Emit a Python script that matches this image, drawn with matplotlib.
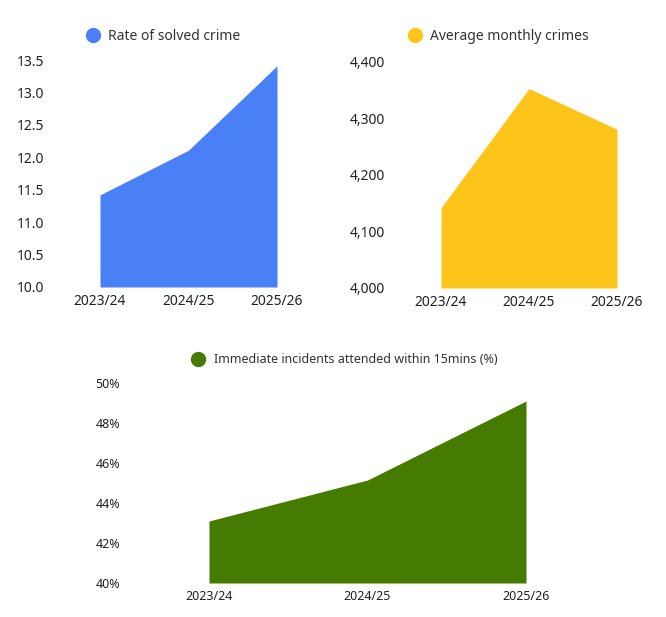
import matplotlib.pyplot as plt
from matplotlib.lines import Line2D
from matplotlib.ticker import FuncFormatter

years = ["2023/24", "2024/25", "2025/26"]

solved_rate = [11.42, 12.11, 13.41]
monthly_crimes = [4142, 4353, 4281]
attended_pct = [43.1, 45.15, 49.1]

W, H = 666, 617


def px_box(left, top, right, bottom):
    return [left / W, 1 - bottom / H, (right - left) / W, (bottom - top) / H]


def draw(ax, values, color, ylim, yticks, fmt, label, legend_xy, ypad):
    x = range(len(years))
    ax.fill_between(x, ylim[0], values, color=color, linewidth=0)
    ax.set_xlim(0, len(years) - 1)
    ax.set_ylim(*ylim)
    ax.set_yticks(yticks)
    ax.yaxis.set_major_formatter(FuncFormatter(fmt))
    ax.set_xticks(list(x))
    ax.set_xticklabels(years)
    ax.tick_params(axis="y", length=0, pad=ypad, labelsize=10, labelcolor="#222222")
    ax.tick_params(axis="x", length=0, pad=5, labelsize=10, labelcolor="#222222")
    for s in ax.spines.values():
        s.set_visible(False)
    handle = Line2D([], [], marker="o", linestyle="none", markersize=10,
                    markerfacecolor=color, markeredgecolor=color)
    ax.legend([handle], [label], loc="center", bbox_to_anchor=legend_xy,
              bbox_transform=ax.figure.transFigure, frameon=False,
              handletextpad=0.1, fontsize=10, labelcolor="#333333")


def main():
    plt.rcParams["font.family"] = ["Noto Sans", "DejaVu Sans"]
    fig = plt.figure(figsize=(W / 100, H / 100), dpi=100)

    ax1 = fig.add_axes(px_box(100, 60, 277, 287))
    draw(ax1, solved_rate, "#4a80f5", (10, 13.5),
         [10, 10.5, 11, 11.5, 12, 12.5, 13, 13.5],
         lambda v, p: f"{v:.1f}", "Rate of solved crime",
         (160 / W, 1 - 36 / H), 40)

    ax2 = fig.add_axes(px_box(441, 62, 617, 288))
    draw(ax2, monthly_crimes, "#fdc51a", (4000, 4400),
         [4000, 4100, 4200, 4300, 4400],
         lambda v, p: f"{v:,.0f}", "Average monthly crimes",
         (495 / W, 1 - 36.5 / H), 40)

    ax3 = fig.add_axes(px_box(209, 383, 526, 583))
    draw(ax3, attended_pct, "#457b00", (40, 50),
         [40, 42, 44, 46, 48, 50],
         lambda v, p: f"{v:.0f}%", "Immediate incidents attended within 15mins (%)",
         (341 / W, 1 - 360 / H), 64)
    ax3.tick_params(labelsize=9)
    ax3.legend_.get_texts()[0].set_fontsize(9)

    fig.savefig("out.png", dpi=100)
    plt.close(fig)


if __name__ == "__main__":
    main()
